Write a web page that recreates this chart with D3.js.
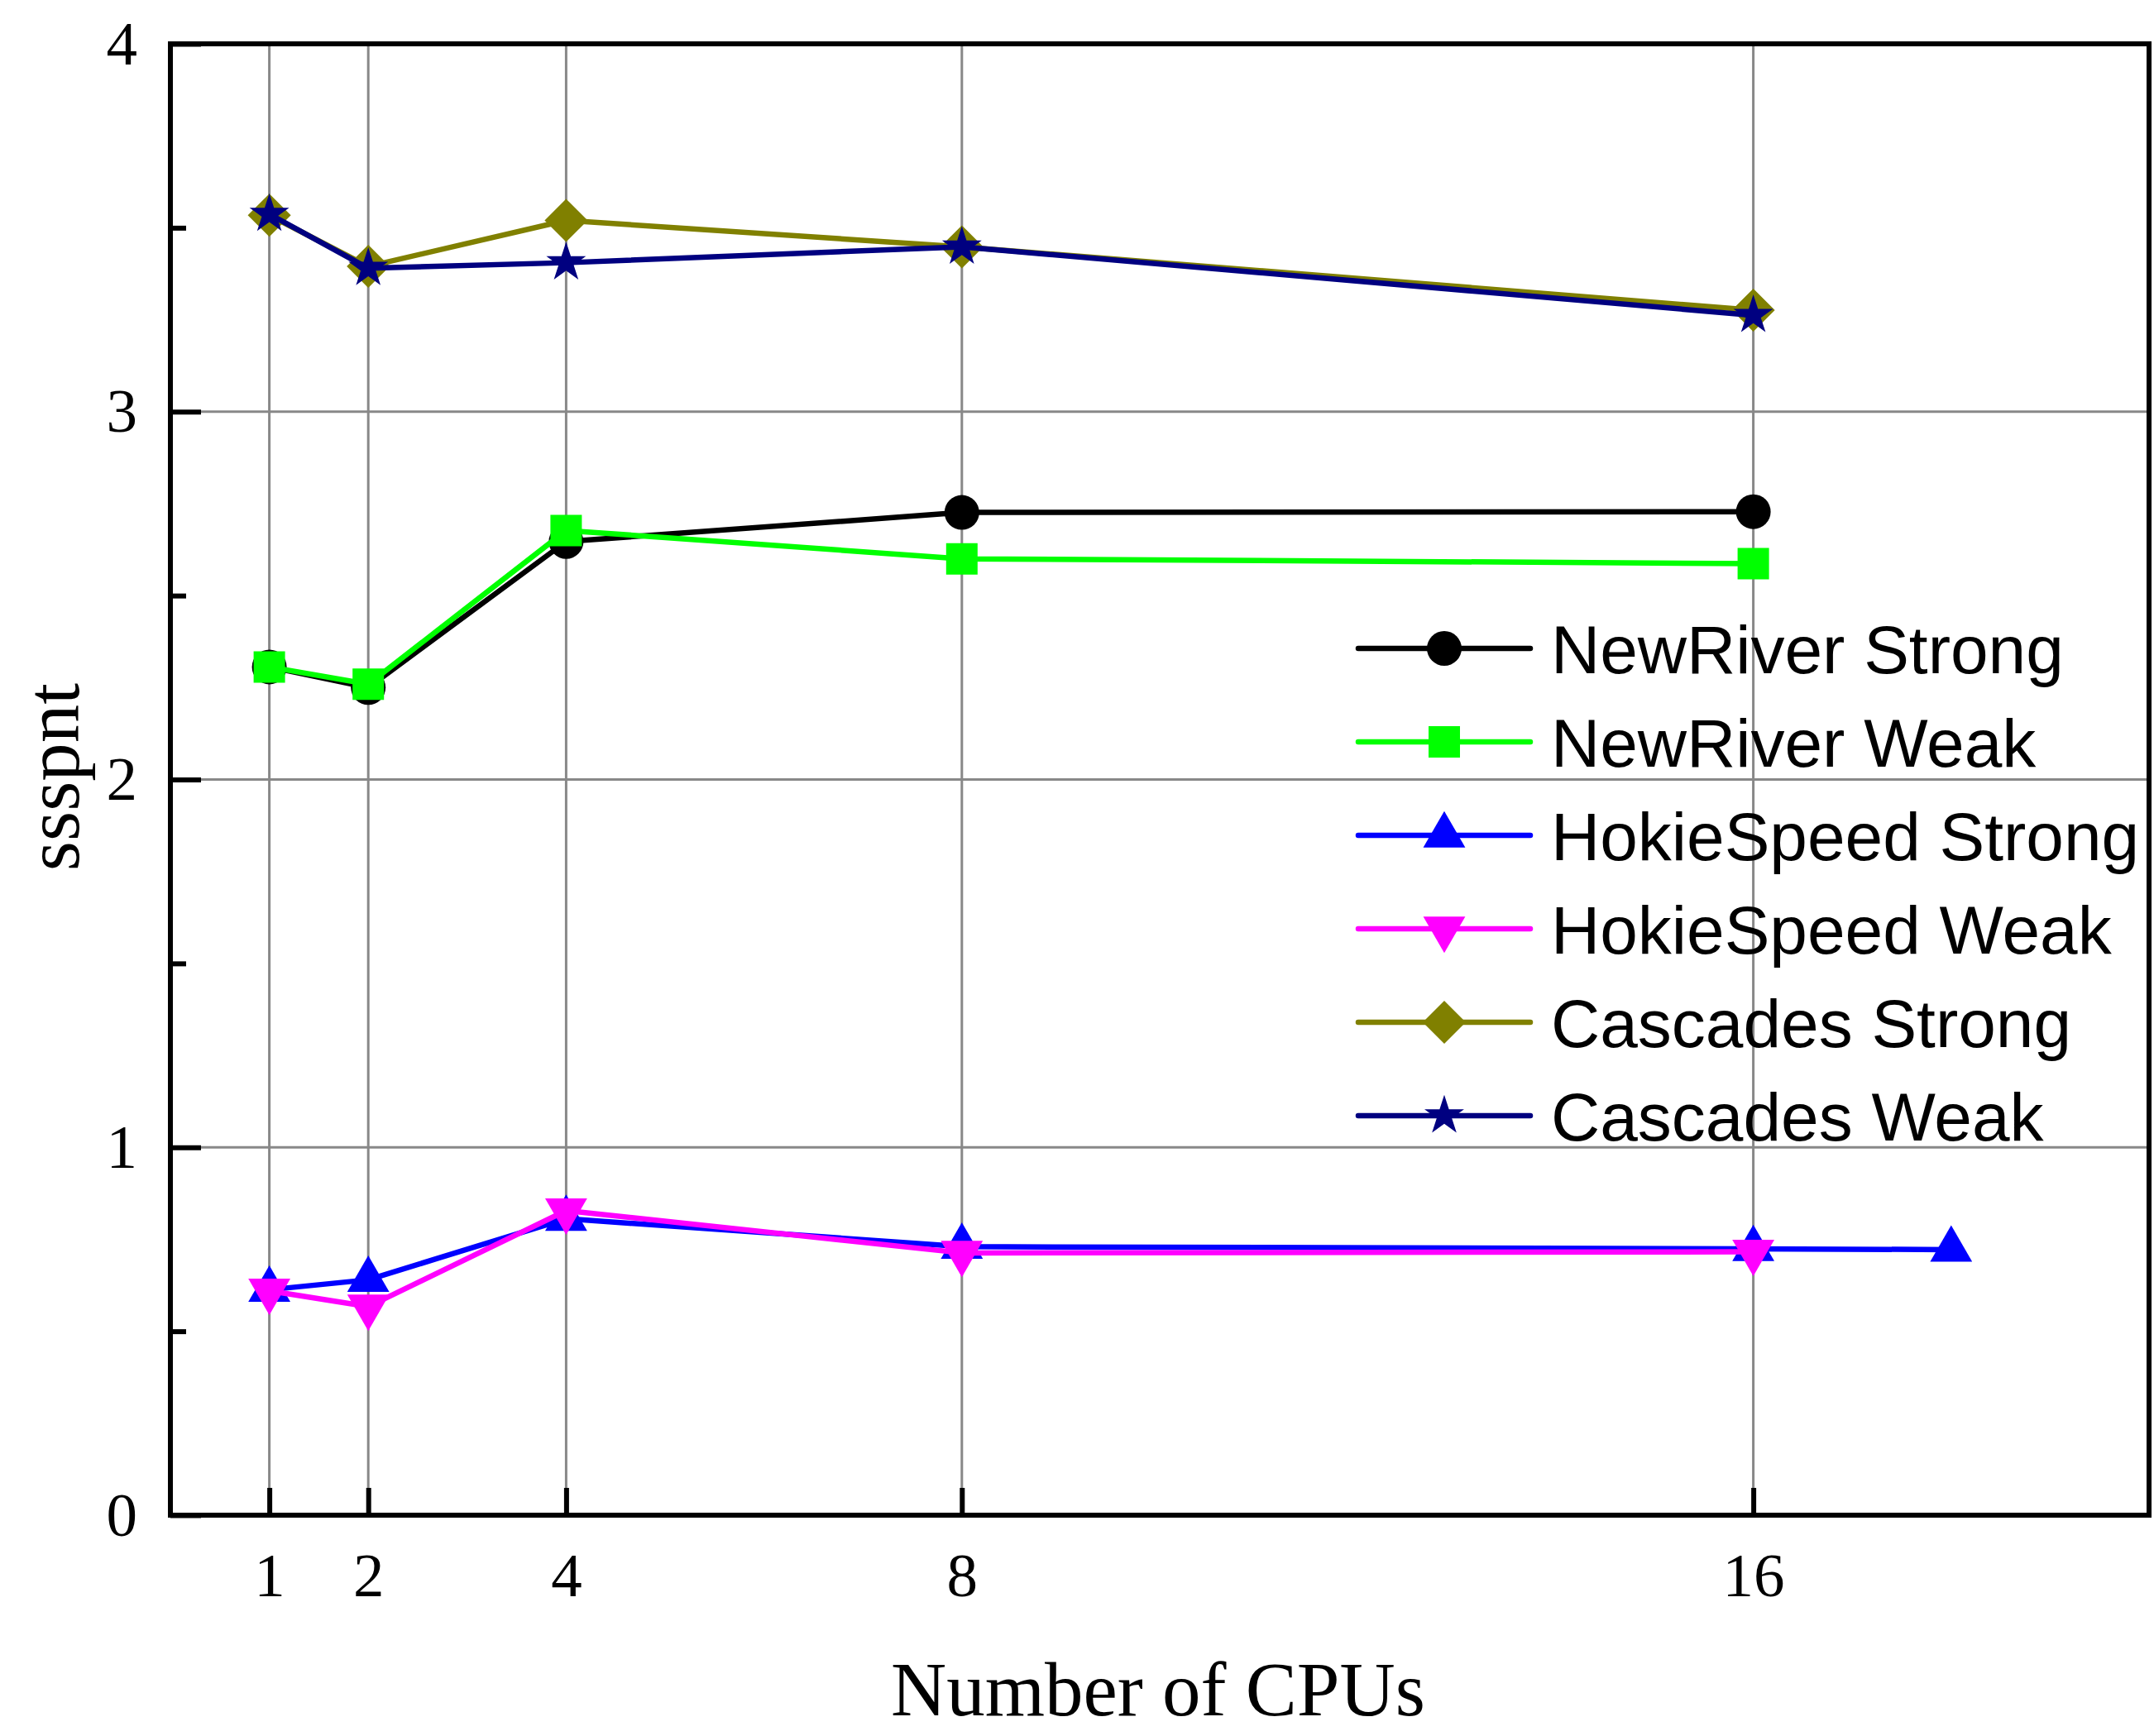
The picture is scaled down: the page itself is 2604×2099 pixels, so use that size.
<!DOCTYPE html>
<html>
<head>
<meta charset="utf-8">
<script src="https://cdn.jsdelivr.net/npm/d3@7"></script>
<style>
  body { margin: 0; background: #fff; }
  svg { display: block; }
  .axis .tick text { font-family: "Liberation Serif", "Times New Roman", serif; font-size: 75px; fill: #000; }
</style>
</head>
<body>
<div id="chart"></div>
<script>
// values
const cpus = [1, 2, 4, 8, 16];
const cpusHokieStrong = [1, 2, 4, 8, 16, 18];

const newRiverStrong = [2.306, 2.25, 2.647, 2.726, 2.728];
const newRiverWeak = [2.306, 2.259, 2.677, 2.60, 2.587];
const hokieSpeedStrong = [0.613, 0.64, 0.806, 0.73, 0.724, 0.722];
const hokieSpeedWeak = [0.61, 0.567, 0.828, 0.713, 0.716];
const cascadesStrong = [3.534, 3.395, 3.52, 3.448, 3.276];
const cascadesWeak = [3.537, 3.39, 3.405, 3.448, 3.262];

const seriesNames = ['NewRiver Strong', 'NewRiver Weak', 'HokieSpeed Strong', 'HokieSpeed Weak', 'Cascades Strong', 'Cascades Weak'];
const seriesColors = ['#000000', '#00ff00', '#0000ff', '#ff00ff', '#808000', '#000080'];

const xTicks = [1, 2, 4, 8, 16];
const yTicks = [0, 1, 2, 3, 4];
const yMinorTicks = [0.5, 1.5, 2.5, 3.5];

const width = 2604;
const height = 2099;
const margin = { top: 53, right: 6, bottom: 267, left: 206 };

const markers = [
  { type: d3.symbolCircle, size: 1385, rotate: 0 },
  { type: d3.symbolSquare, size: 1444, rotate: 0 },
  { type: d3.symbolTriangle, size: 1118, rotate: 0 },
  { type: d3.symbolTriangle, size: 1118, rotate: 180 },
  { type: d3.symbolSquare, size: 1354, rotate: 45 },
  { type: d3.symbolStar, size: 713, rotate: 0 },
];

const xValues = [cpus, cpus, cpusHokieStrong, cpus, cpus, cpus];
const yValues = [newRiverStrong, newRiverWeak, hokieSpeedStrong, hokieSpeedWeak, cascadesStrong, cascadesWeak];

const series = seriesNames.map((name, i) => ({
  name,
  color: seriesColors[i],
  marker: markers[i],
  points: xValues[i].map((x, j) => ({ x, y: yValues[i][j] })),
}));

const svg = d3.select('#chart')
  .append('svg')
  .attr('width', width)
  .attr('height', height)
  .attr('viewBox', `0 0 ${width} ${height}`);

svg.append('rect').attr('width', width).attr('height', height).attr('fill', '#fff');

const x = d3.scaleLinear().domain([0, 20]).range([margin.left, width - margin.right]);
const y = d3.scaleLinear().domain([0, 4]).range([height - margin.bottom, margin.top]);

// grid
const grid = svg.append('g').attr('stroke', '#888888').attr('stroke-width', 3);
grid.selectAll('.vgrid')
  .data(xTicks)
  .enter().append('line')
  .attr('x1', d => x(d)).attr('x2', d => x(d))
  .attr('y1', y(0)).attr('y2', y(4));
grid.selectAll('.hgrid')
  .data(yTicks.slice(1, -1))
  .enter().append('line')
  .attr('x1', x(0)).attr('x2', x(20))
  .attr('y1', d => y(d)).attr('y2', d => y(d));

// series
const line = d3.line().x(d => x(d.x)).y(d => y(d.y));
const symbolPath = m => d3.symbol().type(m.type).size(m.size)();

series.forEach((s) => {
  const g = svg.append('g').attr('class', 'series');
  g.append('path')
    .datum(s.points)
    .attr('fill', 'none')
    .attr('stroke', s.color)
    .attr('stroke-width', 6.5)
    .attr('stroke-linejoin', 'round')
    .attr('d', line);
  g.selectAll('.marker')
    .data(s.points)
    .enter().append('path')
    .attr('fill', s.color)
    .attr('transform', d => `translate(${x(d.x)},${y(d.y)}) rotate(${s.marker.rotate})`)
    .attr('d', symbolPath(s.marker));
});

// axes
const xAxis = svg.append('g')
  .attr('class', 'axis')
  .attr('transform', `translate(0,${y(0)})`)
  .call(d3.axisBottom(x).tickValues(xTicks).tickFormat(d3.format('d'))
    .tickSizeInner(-33).tickSizeOuter(0).tickPadding(45));
xAxis.select('.domain').remove();
xAxis.selectAll('.tick line').attr('stroke', '#000').attr('stroke-width', 6);

const yAxis = svg.append('g')
  .attr('class', 'axis')
  .attr('transform', `translate(${x(0)},0)`)
  .call(d3.axisLeft(y).tickValues(yTicks).tickFormat(d3.format('d'))
    .tickSizeInner(-37).tickSizeOuter(0).tickPadding(40));
yAxis.select('.domain').remove();
yAxis.selectAll('.tick line').attr('stroke', '#000').attr('stroke-width', 6);

const yMinor = svg.append('g')
  .attr('transform', `translate(${x(0)},0)`)
  .call(d3.axisLeft(y).tickValues(yMinorTicks).tickFormat('')
    .tickSizeInner(-19).tickSizeOuter(0));
yMinor.select('.domain').remove();
yMinor.selectAll('.tick line').attr('stroke', '#000').attr('stroke-width', 6);

// frame
svg.append('rect')
  .attr('x', x(0)).attr('y', y(4))
  .attr('width', x(20) - x(0)).attr('height', y(0) - y(4))
  .attr('fill', 'none')
  .attr('stroke', '#000')
  .attr('stroke-width', 6);

// axis titles
svg.append('text')
  .attr('x', (x(0) + x(20)) / 2 - 2)
  .attr('y', 2074)
  .attr('text-anchor', 'middle')
  .attr('font-family', '"Liberation Serif", "Times New Roman", serif')
  .attr('font-size', 93)
  .text('Number of CPUs');

svg.append('text')
  .attr('transform', `translate(95,${(y(0) + y(4)) / 2 - 3}) rotate(-90)`)
  .attr('text-anchor', 'middle')
  .attr('font-family', '"Liberation Serif", "Times New Roman", serif')
  .attr('font-size', 93)
  .text('ssspnt');

// legend
const legend = svg.append('g').attr('transform', 'translate(1642,784)');
const rowH = 113;
series.forEach((s, i) => {
  const row = legend.append('g').attr('transform', `translate(0,${i * rowH})`);
  row.append('line')
    .attr('x1', 0).attr('x2', 208)
    .attr('stroke', s.color)
    .attr('stroke-width', 6.5)
    .attr('stroke-linecap', 'round');
  row.append('path')
    .attr('fill', s.color)
    .attr('transform', `translate(104,0) rotate(${s.marker.rotate})`)
    .attr('d', symbolPath(s.marker));
  row.append('text')
    .attr('x', 233)
    .attr('y', 30)
    .attr('font-family', '"Liberation Sans", Arial, sans-serif')
    .attr('font-size', 82)
    .attr('fill', '#000')
    .text(s.name);
});
</script>
</body>
</html>
